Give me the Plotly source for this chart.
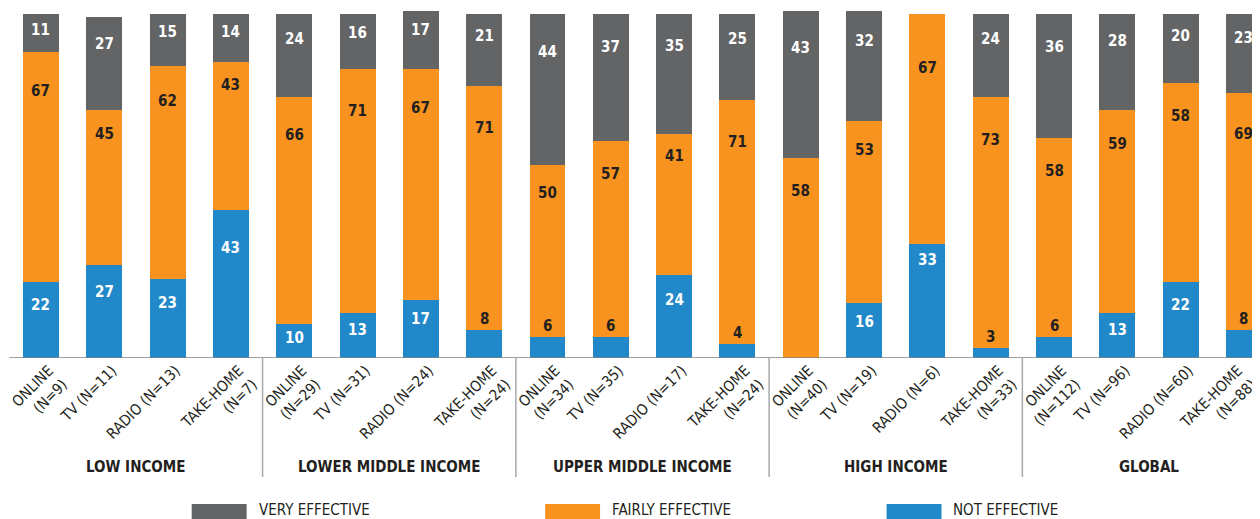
import plotly.graph_objects as go

# ---------------- data ----------------
groups = ["LOW INCOME", "LOWER MIDDLE INCOME", "UPPER MIDDLE INCOME", "HIGH INCOME", "GLOBAL"]
channels = ["ONLINE", "TV", "RADIO", "TAKE-HOME"]
sample_n = [9, 11, 13, 7, 29, 31, 24, 24, 34, 35, 17, 24, 40, 19, 6, 33, 112, 96, 60, 88]
not_effective = [22, 27, 23, 43, 10, 13, 17, 8, 6, 6, 24, 4, 0, 16, 33, 3, 6, 13, 22, 8]
fairly_effective = [67, 45, 62, 43, 66, 71, 67, 71, 50, 57, 41, 71, 58, 53, 67, 73, 58, 59, 58, 69]
very_effective = [11, 27, 15, 14, 24, 16, 17, 21, 44, 37, 35, 25, 43, 32, 0, 24, 36, 28, 20, 23]
series_names = ["VERY EFFECTIVE", "FAIRLY EFFECTIVE", "NOT EFFECTIVE"]

# ---------------- styles ----------------
C_VERY = "#636466"
C_FAIR = "#F7931E"
C_NOT = "#2189C9"
DARK = "#231F20"
FONT = "Liberation Sans Narrow, DejaVu Sans Condensed, Arial Narrow, sans-serif"

# the page body has an 8px margin; the figure fills the rest of the window
OFF = 8
W, H = 1260 - OFF, 519 - OFF
MB = 161
PLOT_H = H - MB
PPU = 3.44                      # pixels per data unit (vertical)
Y_MAX = PLOT_H / PPU
X_RANGE = [-0.505, 19.237]


def py(page_y):
    """page pixel y -> paper y"""
    return (PLOT_H - (page_y - OFF)) / PLOT_H


def px(page_x):
    """page pixel x -> paper x"""
    return (page_x - OFF) / W


n = len(sample_n)
xs = list(range(n))
tick_text = []
for i in range(n):
    ch = channels[i % 4]
    if ch in ("ONLINE", "TAKE-HOME"):
        tick_text.append(f"{ch}<br>(N={sample_n[i]})")
    else:
        tick_text.append(f"{ch} (N={sample_n[i]})")

fig = go.Figure()
for vals, name, col in [(not_effective, series_names[2], C_NOT),
                        (fairly_effective, series_names[1], C_FAIR),
                        (very_effective, series_names[0], C_VERY)]:
    fig.add_trace(go.Bar(x=xs, y=vals, name=name, marker=dict(color=col, line=dict(width=0)),
                         width=0.568, hoverinfo="skip", showlegend=False))
# invisible helper trace so the overlay axis (last tick label) is drawn
fig.add_trace(go.Scatter(x=[xs[-1]], y=[0], xaxis="x2", mode="markers",
                         marker=dict(opacity=0), hoverinfo="skip", showlegend=False))

# value labels
ann = []
for i in range(n):
    segs = []
    top = very_effective[i] + fairly_effective[i] + not_effective[i]
    for v, kind in [(very_effective[i], "very"), (fairly_effective[i], "fair"), (not_effective[i], "not")]:
        segs.append((v, kind, top))
        top -= v
    k = 0
    for v, kind, seg_top in segs:
        if v == 0:
            continue
        if kind == "not" and v <= 8:
            y = seg_top + 11 / PPU
            color = DARK
        else:
            off = 0.2 * v * PPU + (8 if k % 2 == 0 else -7)
            y = seg_top - off / PPU
            color = DARK if kind == "fair" else "white"
        k += 1
        ann.append(dict(x=i, y=y, xref="x", yref="y", text=str(v), showarrow=False,
                        font=dict(family=FONT, size=15, color=color, weight="bold"),
                        xanchor="center", yanchor="middle"))

# group labels
for g, name in enumerate(groups):
    ann.append(dict(x=g * 4 + 1.5, y=py(467), xref="x", yref="paper",
                    text=name, showarrow=False,
                    font=dict(family=FONT, size=15, color=DARK, weight="bold"),
                    xanchor="center", yanchor="middle"))

shapes = []
# separators
for g in range(1, len(groups)):
    xsep = g * 4 - 0.5
    shapes.append(dict(type="line", xref="x", yref="paper", x0=xsep, x1=xsep,
                       y0=0, y1=py(477),
                       line=dict(color="#A7A9AC", width=1.5)))
# baseline
shapes.append(dict(type="line", xref="x", yref="y", x0=-0.5, x1=20, y0=0, y1=0,
                   line=dict(color="#808285", width=1.5)))

# legend (manual)
leg_boxes = [(191, 246, C_VERY), (545, 600, C_FAIR), (887, 942, C_NOT)]
for (x0, x1, col), name in zip(leg_boxes, series_names):
    shapes.append(dict(type="rect", xref="paper", yref="paper",
                       x0=px(x0), x1=px(x1), y0=py(504), y1=py(522),
                       fillcolor=col, line=dict(width=0)))
    ann.append(dict(x=px(x1 + 10), y=py(510), xref="paper", yref="paper",
                    text=name, showarrow=False, xanchor="left", yanchor="middle",
                    font=dict(family=FONT, size=15, color=DARK)))

tick_font = dict(family=FONT, size=15, color=DARK)
fig.update_layout(
    width=W, height=H,
    margin=dict(l=0, r=0, t=0, b=MB, pad=0),
    paper_bgcolor="white", plot_bgcolor="white",
    barmode="stack", bargap=0,
    showlegend=False,
    xaxis=dict(range=X_RANGE, tickmode="array", tickvals=xs[:-1], ticktext=tick_text[:-1],
               tickangle=-45, tickfont=tick_font,
               showgrid=False, zeroline=False, showline=False, ticks="",
               ticklabelshift=8, ticklabeloverflow="allow"),
    xaxis2=dict(range=X_RANGE, overlaying="x", anchor="y", side="bottom",
                tickmode="array", tickvals=xs[-1:], ticktext=tick_text[-1:],
                tickangle=-45, tickfont=tick_font,
                showgrid=False, zeroline=False, showline=False, ticks="",
                ticklabelshift=-6, ticklabeloverflow="allow"),
    yaxis=dict(range=[0, Y_MAX], visible=False, showgrid=False, zeroline=False),
    annotations=ann, shapes=shapes,
)

fig.write_html("out.html")
